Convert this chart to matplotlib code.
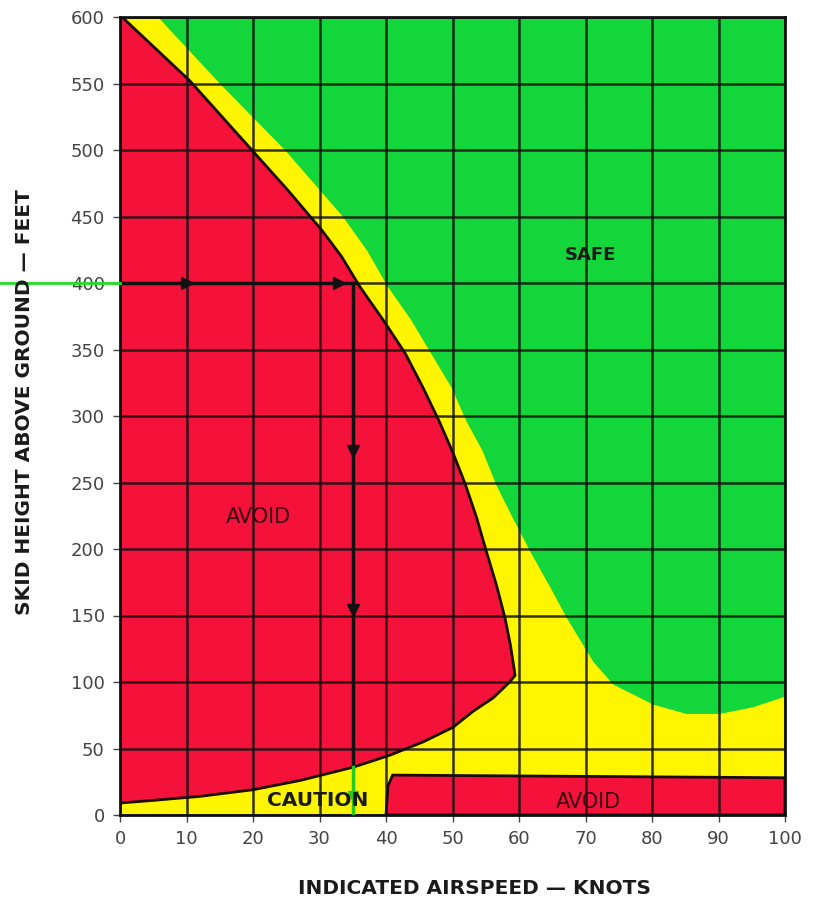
import matplotlib
matplotlib.use("Agg")
import matplotlib.pyplot as plt

# height-velocity diagram values
x_ticks = [0, 10, 20, 30, 40, 50, 60, 70, 80, 90, 100]
y_ticks = [0, 50, 100, 150, 200, 250, 300, 350, 400, 450, 500, 550, 600]

# upper avoid region: outer edge from top down to the nose
red_top_x = [0.3, 10.5, 20, 25.2, 30.3, 33.3, 36.1, 39.6, 42.9, 45.6, 48.0, 50.1,
             51.9, 53.6, 55.1, 56.6, 57.9, 58.7, 59.2, 59.4]
red_top_y = [600, 552, 499, 470, 440, 420, 397, 372, 347, 321, 296, 272,
             249, 224, 198, 173, 148, 128, 112, 105]
# lower edge of the same region, from the nose back to x=0
red_bot_x = [58.6, 56.1, 53.1, 50.1, 45.6, 40.6, 35.1, 27.1, 20, 12, 5, 0]
red_bot_y = [100, 88, 78, 66, 55, 45, 36, 26, 19, 14, 11, 9]

# low-altitude avoid strip
red_low_x = [40, 40.3, 41.0, 100, 100]
red_low_y = [0, 22, 30, 28, 0]

# caution / safe boundary
safe_x = [5.7, 15, 24.8, 33.5, 37.2, 40.3, 43.8, 46.9, 49.9, 52.1, 54.5, 56.6, 59.1,
          61.7, 64.5, 67.2, 71.2, 74.2, 80.2, 85.2, 90.2, 95.2, 100]
safe_y = [600, 550, 500, 450, 424, 397, 372, 346, 321, 296, 274, 248, 223,
          198, 173, 148, 115, 98, 83, 76, 76, 81, 89]

# example path drawn on the chart
path_height = 400
path_speed = 35
path_ground = 36

GREEN = "#12d63a"
YELLOW = "#fff500"
RED = "#f4123a"

fig = plt.figure(figsize=(8.15, 9.02), dpi=100)
ax = fig.add_axes([120 / 815, 1 - 815 / 902, 665 / 815, 798 / 902])
ax.set_facecolor(GREEN)
ax.set_xlim(0, 100)
ax.set_ylim(0, 600)

# caution band: everything below/left of safe boundary
yx = [0, 0] + safe_x + [100]
yy = [0, 600] + safe_y + [0]
ax.fill(yx, yy, color=YELLOW, zorder=1, lw=0)

# upper avoid
rx = [0] + red_top_x + red_bot_x
ry = [600] + red_top_y + red_bot_y
ax.fill(rx, ry, facecolor=RED, edgecolor="#1a0a0a", lw=2, zorder=2)

# lower avoid strip
ax.fill(red_low_x, red_low_y, facecolor=RED, edgecolor="#1a0a0a", lw=2, zorder=2)

ax.set_xticks(x_ticks)
ax.set_yticks(y_ticks)
ax.grid(True, color="#111111", lw=1.8, alpha=0.85, zorder=3)
ax.set_axisbelow(False)
for s in ax.spines.values():
    s.set_linewidth(2)
    s.set_color("#111111")
    s.set_zorder(5)
ax.tick_params(axis="both", direction="out", length=5, width=1, color="#444444",
               labelsize=13, labelcolor="#444444", pad=6)

# path arrows
ax.plot([0, path_speed + 0.3], [path_height, path_height], color="#111111", lw=2.5, zorder=6)
ax.plot([10, 33], [path_height, path_height], ls="none", marker=">", ms=9,
        color="#111111", zorder=6)
ax.plot([path_speed, path_speed], [path_height, path_ground], color="#111111", lw=2.5, zorder=6)
ax.plot([path_speed, path_speed], [274, 154], ls="none", marker="v", ms=9,
        color="#111111", zorder=6)
ax.plot([path_speed, path_speed], [path_ground, 0], color="#22cc22", lw=2.5, zorder=6)
ax.plot([path_speed], [14], marker="v", ms=7, color="#22cc22", zorder=6)
ax.plot([-18, 0], [path_height, path_height], color="#22dd22", lw=2, clip_on=False, zorder=6)

# region labels
ax.text(70.7, 421, "SAFE", fontsize=13, fontweight="bold", color="#1a1a1a",
        ha="center", va="center", zorder=7)
ax.text(20.8, 224, "AVOID", fontsize=15, color="#3a0010",
        ha="center", va="center", zorder=7)
ax.text(29.8, 11, "CAUTION", fontsize=14.5, fontweight="bold", color="#1a1a1a",
        ha="center", va="center", zorder=7)
ax.text(70.4, 10, "AVOID", fontsize=15, color="#3a0010",
        ha="center", va="center", zorder=7)

fig.text(475 / 815, 1 - 888 / 902, "INDICATED AIRSPEED — KNOTS", fontsize=14.5,
         fontweight="bold", color="#1a1a1a", ha="center", va="center")
fig.text(25 / 815, 1 - 402 / 902, "SKID HEIGHT ABOVE GROUND — FEET", fontsize=14.5,
         fontweight="bold", color="#1a1a1a", ha="center", va="center", rotation=90)

fig.savefig("out.png", dpi=100)
